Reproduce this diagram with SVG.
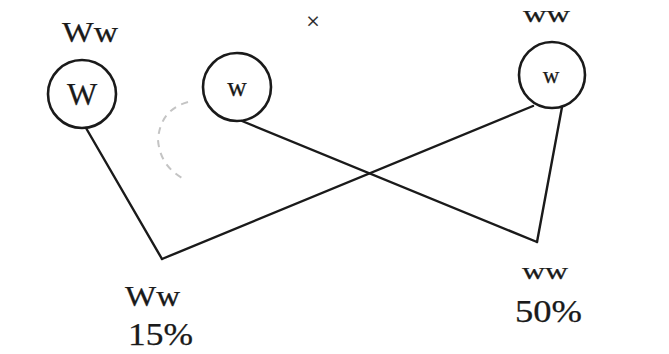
<svg xmlns="http://www.w3.org/2000/svg" width="669" height="354" viewBox="0 0 669 354">
<style>
.node circle{fill:none;stroke:#1a1a1a;stroke-width:2.6}
text{font-family:"Liberation Serif","DejaVu Serif",serif;fill:#1a1a1a;stroke:#1a1a1a;stroke-width:0.25}
.conn line{stroke:#1a1a1a;stroke-width:2.4;stroke-linecap:round}
</style>
<rect width="669" height="354" fill="#fff"/>
<path d="M188 102 Q160 110 158 140 Q160 165 182 178" fill="none" stroke="#c4c4c4" stroke-width="2" stroke-dasharray="7 6"/>
<text x="313" y="29" font-size="24" text-anchor="middle" stroke-width="0.8">×</text>
<g id="node-W" class="node">
<text x="62" y="42" font-size="30" textLength="56" lengthAdjust="spacingAndGlyphs">Ww</text>
<circle cx="82" cy="94" r="34"/>
<text x="82" y="105" font-size="32" text-anchor="middle">W</text>
</g>
<g id="node-w" class="node">
<circle cx="237" cy="87" r="34"/>
<text x="237" y="96" font-size="27" text-anchor="middle">w</text>
</g>
<g id="node-ww-top" class="node">
<text x="523" y="22" font-size="24" textLength="47" lengthAdjust="spacingAndGlyphs">ww</text>
<circle cx="552" cy="75" r="33"/>
<text x="551" y="83" font-size="23" text-anchor="middle">w</text>
</g>
<g id="node-Ww-bottom">
<text x="125" y="306" font-size="30" textLength="55" lengthAdjust="spacingAndGlyphs">Ww</text>
<text x="128" y="345" font-size="32" textLength="65" lengthAdjust="spacingAndGlyphs">15%</text>
</g>
<g id="node-ww-bottom">
<text x="522" y="279" font-size="24" textLength="46" lengthAdjust="spacingAndGlyphs">ww</text>
<text x="515" y="322" font-size="32" textLength="67" lengthAdjust="spacingAndGlyphs">50%</text>
</g>
<g class="conn" id="connectors">
<line x1="86" y1="128" x2="162" y2="259"/>
<line x1="162" y1="259" x2="533" y2="106"/>
<line x1="242" y1="121" x2="537" y2="242"/>
<line x1="562" y1="107" x2="537" y2="242"/>
</g>
</svg>
